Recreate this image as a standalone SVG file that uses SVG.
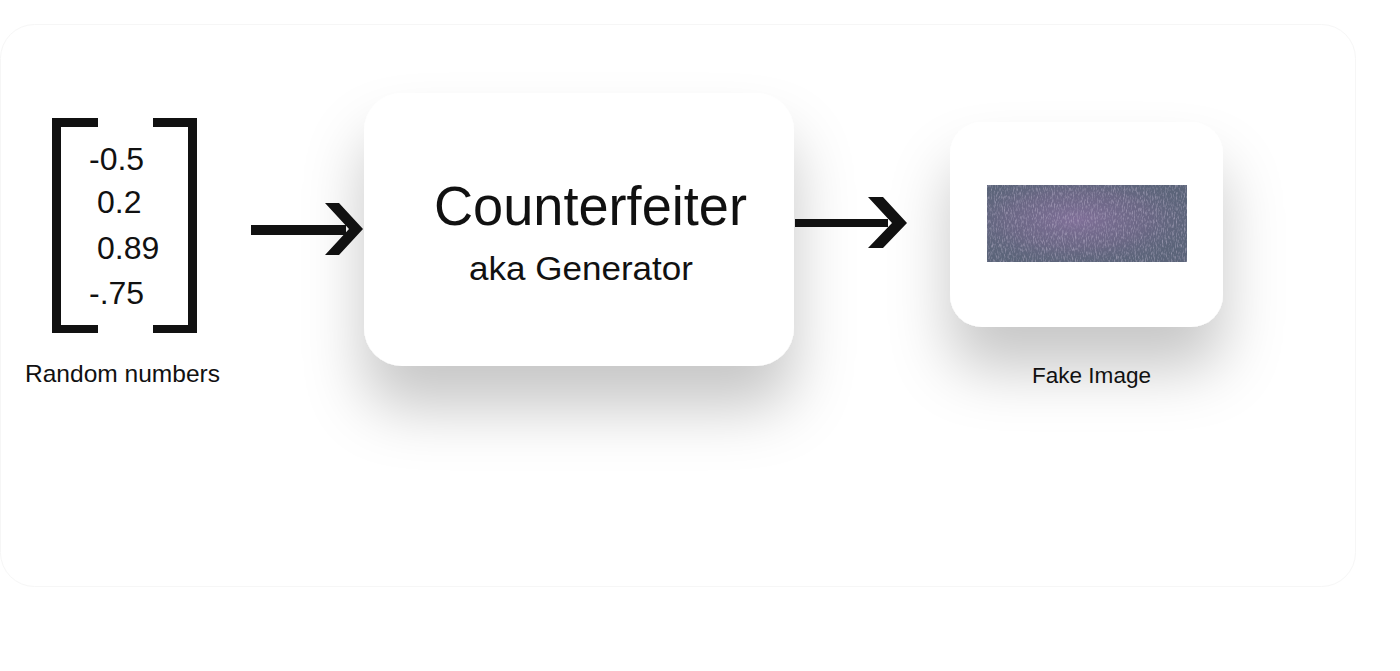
<svg xmlns="http://www.w3.org/2000/svg" width="1400" height="671" viewBox="0 0 1400 671">
  <style>
    .t { font-family: "Liberation Sans", Arial, sans-serif; fill: #111; }
    .box { fill: #ffffff; }
    .ink { fill: #111; }
  </style>
  <defs>
    <filter id="shadow" x="-40%" y="-40%" width="180%" height="200%">
      <feDropShadow dx="0" dy="42" stdDeviation="30" flood-color="#000" flood-opacity="0.22"/>
    </filter>
    <radialGradient id="purple" cx="0.45" cy="0.45" r="0.6">
      <stop offset="0" stop-color="#82709a" stop-opacity="0.95"/>
      <stop offset="0.6" stop-color="#776a8e" stop-opacity="0.55"/>
      <stop offset="1" stop-color="#6a6a86" stop-opacity="0"/>
    </radialGradient>
    <filter id="grain" x="0" y="0" width="100%" height="100%">
      <feTurbulence type="fractalNoise" baseFrequency="0.9 0.25" numOctaves="2" seed="4" result="n"/>
      <feColorMatrix in="n" type="matrix" values="0 0 0 0 0.55  0 0 0 0 0.5  0 0 0 0 0.65  0 0 0 2.6 -1.2" result="c"/>
      <feComposite in="c" in2="SourceGraphic" operator="in"/>
    </filter>
  </defs>

  <rect x="0" y="0" width="1400" height="671" fill="#ffffff"/>
  <rect x="0.5" y="24.5" width="1355" height="562" rx="34" fill="none" stroke="#f6f6f6" stroke-width="1"/>

  <g id="random-numbers">
    <path class="ink" d="M52,118 H98 V127 H61 V325 H98 V333 H52 Z"/>
    <path class="ink" d="M197,118 H153 V127 H188 V325 H153 V333 H197 Z"/>
    <text class="t" x="89" y="170" font-size="32">-0.5</text>
    <text class="t" x="97" y="213" font-size="32">0.2</text>
    <text class="t" x="97" y="259" font-size="32">0.89</text>
    <text class="t" x="89" y="304" font-size="32">-.75</text>
    <text class="t" x="25" y="382" font-size="24" textLength="195" lengthAdjust="spacingAndGlyphs">Random numbers</text>
  </g>

  <g id="generator">
    <rect class="box" x="364" y="93" width="430" height="273" rx="38" filter="url(#shadow)"/>
    <text class="t" x="434" y="225" font-size="56" textLength="313" lengthAdjust="spacingAndGlyphs">Counterfeiter</text>
    <text class="t" x="469" y="280" font-size="34" textLength="224" lengthAdjust="spacingAndGlyphs">aka Generator</text>
  </g>

  <g id="fake-image">
    <rect class="box" x="950" y="122" width="273" height="205" rx="32" filter="url(#shadow)"/>
    <rect x="987" y="185" width="200" height="77" fill="#5b6479"/>
    <rect x="987" y="185" width="200" height="77" fill="url(#purple)"/>
    <rect x="987" y="185" width="200" height="77" fill="#000" filter="url(#grain)" opacity="0.5"/>
    <text class="t" x="1032" y="383" font-size="22" textLength="119" lengthAdjust="spacingAndGlyphs">Fake Image</text>
  </g>

  <g id="connectors">
    <path class="ink" d="M251,225 H346 V235 H251 Z"/>
    <path class="ink" d="M325,203 H339 L363,229 L339,255 H325 L349,229 Z"/>
    <path class="ink" d="M795,219 H888 V227 H795 Z"/>
    <path class="ink" d="M868,197 H883 L907,223 L883,248 H868 L892,223 Z"/>
  </g>
</svg>
